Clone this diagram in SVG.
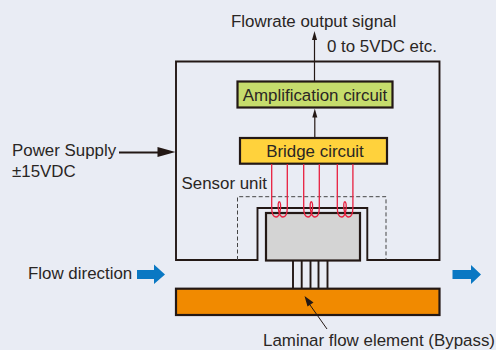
<svg xmlns="http://www.w3.org/2000/svg" width="496" height="350" viewBox="0 0 496 350">
<defs>
<style>
text{font-family:"Liberation Sans",Arial,sans-serif;font-size:16.9px;fill:#2a2624}
.box{stroke:#231815;stroke-width:2.200}
.ln{fill:none;stroke:#231815;stroke-width:1.900}
.thin{fill:none;stroke:#231815;stroke-width:1.200}
.red{fill:none;stroke:#e8203f;stroke-width:1.300}
</style>
<path id="coil" class="red" d="M271.700 164V207C271.700 214 273 217 276 217C280 217 281 208 280.500 204C280 201 278.500 201 278.200 204C277.800 208 279 217 283 217C286 217 287.300 214 287.300 207V164"/>
</defs>
<rect width="496" height="350" fill="#e9ecf4"/>
<g id="housing"><path class="ln" d="M176 260V61.500H439.500V260H367.300V208H257.500V260Z"/><path d="M237.500 260V196.700H386V260" fill="none" stroke="#444" stroke-width="1" stroke-dasharray="4 2.500"/></g>
<g id="sensor"><rect class="box" x="266" y="213" width="94" height="47.500" fill="#d4d4d4"/></g>
<g id="tubes"><path class="ln" d="M293 261V288M301.700 261V288M310.500 261V288M318.500 261V288M327.500 261V288"/></g>
<g id="laminar"><rect class="box" x="176" y="288.700" width="263.500" height="26.300" fill="#f18a00"/></g>
<g id="amp"><rect class="box" x="237.500" y="81.500" width="155" height="26" fill="#c6dc6c"/><text x="315" y="101" text-anchor="middle">Amplification circuit</text></g>
<g id="bridge"><rect class="box" x="240" y="138" width="147" height="25.700" fill="#ffd23c"/><text x="315" y="157" text-anchor="middle">Bridge circuit</text></g>
<g id="connectors">
<path class="thin" d="M314.500 81V38"/><path d="M314.500 31l-2.500 9h5z" fill="#231815"/>
<path class="thin" d="M314.800 138V116"/><path d="M314.800 108.500l-2.500 9h5z" fill="#231815"/>
<path d="M119 152.500H160" stroke="#231815" stroke-width="1.800"/><path d="M175.500 152l-18-5v10z" fill="#231815"/>
<path d="M327 329L306.500 300" stroke="#231815" stroke-width="1"/><path d="M304.500 296l9 6.500-6 4z" fill="#231815"/>
<use href="#coil"/><use href="#coil" x="32"/><use href="#coil" x="65.600"/>
</g>
<g id="arrows"><path d="M137 270H154V264.500L165 274.500L154 284V279H137Z" fill="#0a78c3"/><path d="M452.500 270H471V265L481 274.500L471 284V279H452.500Z" fill="#0a78c3"/></g>
<g id="labels">
<text x="231" y="26.500">Flowrate output signal</text>
<text x="327" y="51.500">0 to 5VDC etc.</text>
<text x="12" y="156">Power Supply</text>
<text x="12" y="177">±15VDC</text>
<text x="181.500" y="189.300">Sensor unit</text>
<text x="28" y="279">Flow direction</text>
<text x="263" y="346" textLength="232" lengthAdjust="spacingAndGlyphs">Laminar flow element (Bypass)</text>
</g>
</svg>
